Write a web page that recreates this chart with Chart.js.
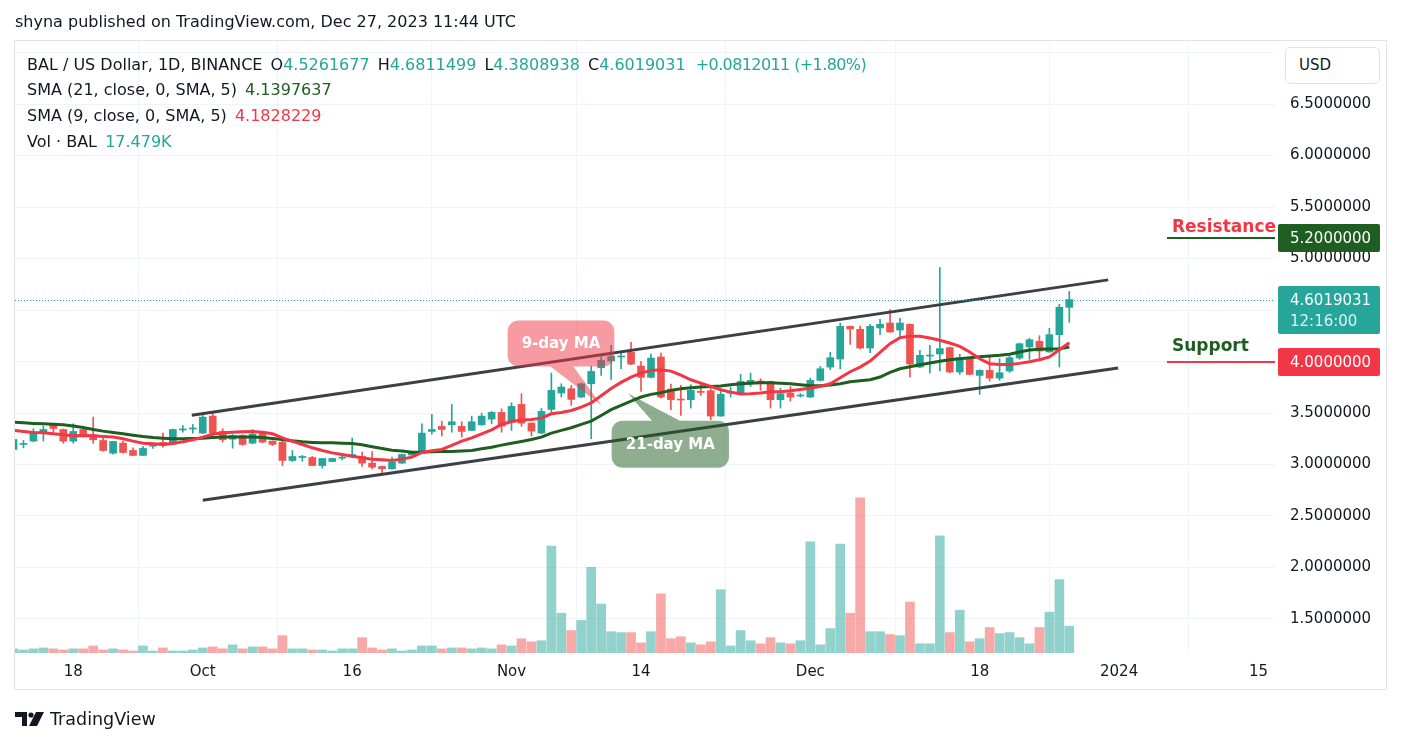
<!DOCTYPE html>
<html>
<head>
<meta charset="utf-8">
<script src="https://cdn.jsdelivr.net/npm/chart.js@4.4.1/dist/chart.umd.min.js"></script>
<style>
html,body{margin:0;padding:0;background:#fff;width:1401px;height:744px;overflow:hidden;}
body{font-family:"DejaVu Sans",sans-serif;color:#131722;}
#wrap{position:relative;width:1401px;height:744px;}
#frame{position:absolute;left:14px;top:40px;width:1371px;height:648px;border:1px solid #e0e3eb;}
#c{position:absolute;left:0;top:0;}
.hdr{position:absolute;left:15px;top:13px;font-size:16px;line-height:18px;white-space:pre;}
.leg{position:absolute;left:27px;font-size:16px;white-space:pre;line-height:18px;}
.leg i{font-style:normal;margin-left:3px;}
.leg .chg{letter-spacing:-0.6px;margin-left:5px;}
.t{color:#26a69a}.g{color:#1e5e20}.r{color:#f23645}
#usd{position:absolute;left:1285px;top:47px;width:95px;height:37px;border:1px solid #e0e3eb;border-radius:5px;background:#fff;font-size:15px;line-height:35px;box-sizing:border-box;padding-left:13px;}
#foot{position:absolute;left:15px;top:709px;font-size:17.5px;white-space:pre;}
#foot svg{vertical-align:-1px;margin-right:5px;}
</style>
</head>
<body>
<div id="wrap">
<div id="frame"></div>
<canvas id="c" width="1401" height="744"></canvas>
<div class="hdr">shyna published on TradingView.com, Dec 27, 2023 11:44 UTC</div>
<div class="leg" style="top:56px">BAL / US Dollar, 1D, BINANCE <i>O</i><span class="t">4.5261677</span> <i>H</i><span class="t">4.6811499</span> <i>L</i><span class="t">4.3808938</span> <i>C</i><span class="t">4.6019031</span> <i class="t chg">+0.0812011 (+1.80%)</i></div>
<div class="leg" style="top:81px">SMA (21, close, 0, SMA, 5) <i class="g">4.1397637</i></div>
<div class="leg" style="top:107px">SMA (9, close, 0, SMA, 5) <i class="r">4.1828229</i></div>
<div class="leg" style="top:133px">Vol · BAL <i class="t">17.479K</i></div>
<div id="usd">USD</div>
<div id="foot"><svg width="30" height="14" viewBox="0 0 30 14"><path d="M0 0H12V14H7V5H0Z" fill="#131722"/><circle cx="16" cy="3" r="2.6" fill="#131722"/><path d="M21 0H29L22 14H14Z" fill="#131722"/></svg>TradingView</div>
</div>
<script>
// ---- DATA (day index 0 = 2023-09-12, 106 = 2023-12-27) ----
const opens = [3.146,3.195,3.227,3.301,3.395,3.340,3.227,3.340,3.288,3.233,
3.110,3.207,3.136,3.088,3.178,3.214,3.201,3.335,3.345,3.305,
3.470,3.321,3.246,3.282,3.207,3.314,3.227,3.217,3.039,3.068,
3.068,2.990,3.029,3.062,3.078,3.078,3.013,2.981,2.958,3.013,
3.091,3.126,3.321,3.370,3.386,3.370,3.331,3.386,3.441,3.506,
3.412,3.583,3.402,3.305,3.535,3.694,3.736,3.655,3.784,3.940,
4.005,4.044,4.089,3.956,3.846,4.044,3.732,3.635,3.629,3.710,
3.716,3.470,3.694,3.694,3.804,3.810,3.807,3.629,3.694,3.665,
3.655,3.817,3.946,4.024,4.342,4.313,4.131,4.326,4.374,4.306,
4.361,3.946,4.053,4.073,4.135,3.898,4.037,3.865,3.914,3.839,
3.908,4.034,4.141,4.196,4.093,4.261,4.5261677];
const highs = [3.26,3.233,3.347,3.373,3.40,3.345,3.395,3.36,3.46,3.256,
3.226,3.227,3.162,3.175,3.21,3.305,3.345,3.379,3.389,3.476,
3.509,3.347,3.29,3.29,3.340,3.32,3.23,3.256,3.136,3.088,
3.078,3.06,3.06,3.110,3.256,3.120,3.126,2.985,3.071,3.10,
3.13,3.395,3.486,3.421,3.583,3.415,3.470,3.499,3.515,3.541,
3.600,3.687,3.405,3.545,3.888,3.784,3.768,3.79,3.953,4.050,
4.157,4.099,4.186,4.001,4.073,4.083,3.781,3.768,3.775,3.79,
3.765,3.72,3.752,3.875,3.888,3.833,3.81,3.742,3.758,3.69,
3.84,3.953,4.089,4.374,4.345,4.342,4.361,4.41,4.504,4.420,
4.365,4.109,4.157,4.912,4.14,4.070,4.04,3.92,4.05,4.027,
4.05,4.18,4.225,4.251,4.323,4.556,4.6811499];
const lows = [3.13,3.162,3.22,3.227,3.314,3.207,3.207,3.27,3.207,3.13,
3.10,3.11,3.085,3.085,3.156,3.168,3.20,3.314,3.305,3.30,
3.266,3.217,3.159,3.185,3.20,3.21,3.185,2.990,3.029,3.032,
2.988,2.964,3.025,3.045,3.065,2.981,2.958,2.916,2.955,3.01,
3.09,3.12,3.295,3.276,3.314,3.266,3.33,3.38,3.395,3.314,
3.331,3.370,3.276,3.30,3.509,3.655,3.574,3.65,3.250,3.865,
3.826,3.930,3.97,3.710,3.84,3.645,3.532,3.477,3.548,3.67,
3.434,3.47,3.655,3.69,3.758,3.720,3.548,3.548,3.616,3.655,
3.65,3.81,3.920,3.930,4.167,4.122,4.086,4.261,4.285,4.229,
3.849,3.94,3.888,3.908,3.89,3.875,3.87,3.680,3.810,3.817,
3.894,4.021,4.021,4.027,4.09,3.946,4.3808938];
const closes = [3.243,3.201,3.305,3.340,3.350,3.227,3.321,3.279,3.240,3.136,
3.224,3.117,3.088,3.156,3.207,3.185,3.340,3.345,3.350,3.460,
3.305,3.240,3.282,3.195,3.295,3.217,3.195,3.039,3.078,3.078,
2.990,3.058,3.058,3.068,3.097,3.013,2.974,2.958,3.023,3.097,
3.126,3.305,3.340,3.340,3.415,3.321,3.415,3.470,3.506,3.373,
3.564,3.402,3.324,3.515,3.720,3.752,3.632,3.784,3.904,4.011,
4.050,4.050,3.975,3.846,4.034,3.655,3.629,3.626,3.720,3.700,
3.470,3.681,3.703,3.807,3.817,3.801,3.629,3.687,3.655,3.671,
3.817,3.930,4.037,4.342,4.316,4.131,4.342,4.361,4.287,4.374,
3.976,4.060,4.060,4.125,3.898,4.037,3.875,3.914,3.839,3.891,
4.037,4.173,4.212,4.102,4.261,4.527,4.6019031];
const volumesK = [2.7,2.0,2.7,3.3,2.7,2.0,2.7,2.7,4.6,2.0,
2.7,2.0,1.3,4.6,1.3,3.3,1.3,1.3,2.0,3.3,
4.0,2.7,5.3,2.7,4.0,4.0,2.7,11.3,2.7,2.7,
2.0,2.0,1.3,2.7,2.7,10.0,3.3,2.0,2.7,1.3,
2.0,4.6,4.6,2.7,3.3,3.3,2.7,3.3,2.7,5.3,
4.6,9.3,7.3,8.0,69.7,25.9,14.6,21.2,55.8,31.9,
13.9,13.3,13.3,6.6,13.9,38.5,9.3,10.6,6.6,5.3,
7.3,41.2,4.6,14.6,8.0,6.0,10.0,6.6,6.0,8.0,
72.4,5.3,15.9,71.0,25.9,101.1,13.9,13.9,12.0,11.3,
33.2,6.0,6.0,76.3,13.3,27.9,7.3,9.3,16.6,12.6,
13.3,10.0,6.0,16.6,26.6,47.8,17.479];
const sma21 = [3.412,3.405,3.399,3.395,3.392,3.386,3.373,3.360,3.340,3.324,
3.311,3.298,3.285,3.272,3.262,3.256,3.250,3.250,3.253,3.256,
3.262,3.266,3.266,3.266,3.266,3.262,3.253,3.243,3.230,3.220,
3.214,3.210,3.210,3.207,3.204,3.191,3.172,3.155,3.139,3.130,
3.120,3.120,3.123,3.126,3.126,3.130,3.136,3.152,3.168,3.188,
3.207,3.224,3.243,3.266,3.305,3.331,3.357,3.389,3.421,3.476,
3.532,3.574,3.616,3.655,3.681,3.697,3.720,3.736,3.745,3.752,
3.758,3.762,3.775,3.784,3.790,3.794,3.794,3.790,3.784,3.775,
3.765,3.765,3.771,3.784,3.804,3.814,3.823,3.849,3.895,3.930,
3.950,3.969,3.985,4.002,4.018,4.028,4.037,4.047,4.053,4.060,
4.070,4.092,4.112,4.118,4.121,4.125,4.1397637];
const sma9 = [3.331,3.321,3.311,3.308,3.298,3.288,3.279,3.282,3.279,3.272,
3.266,3.250,3.227,3.207,3.201,3.194,3.204,3.220,3.240,3.266,
3.295,3.308,3.314,3.318,3.321,3.314,3.298,3.259,3.224,3.194,
3.162,3.136,3.113,3.097,3.081,3.065,3.052,3.045,3.039,3.052,
3.071,3.117,3.133,3.146,3.185,3.227,3.259,3.298,3.337,3.389,
3.418,3.431,3.437,3.450,3.492,3.505,3.524,3.557,3.599,3.667,
3.738,3.797,3.849,3.888,3.914,3.920,3.907,3.868,3.823,3.790,
3.758,3.726,3.703,3.684,3.687,3.694,3.707,3.707,3.716,3.729,
3.742,3.758,3.784,3.843,3.901,3.946,4.005,4.089,4.173,4.232,
4.245,4.245,4.228,4.206,4.180,4.147,4.092,4.027,3.979,3.972,
3.972,3.982,3.998,4.018,4.044,4.115,4.1828229];
// channel drawing endpoints [dayIndex, price]
const channelUpper = [[17.9,3.478],[109.9,4.793]];
const channelLower = [[19.0,2.652],[110.9,3.938]];
const tickDays = [6,19,34,50,63,80,97,111,125];
const tickLabels = ['18','Oct','16','Nov','14','Dec','18','2024','15'];
const priceTicks = [1.5,2.0,2.5,3.0,3.5,4.0,4.5,5.0,5.5,6.0,6.5,7.0];
const resistanceLevel = 5.2;
const supportLevel = 4.0;
const lastPrice = 4.6019031;
const countdown = '12:16:00';

// ---- styles ----
const UP = '#26a69a', DN = '#ef5350';
const UPV = 'rgba(38,166,154,0.5)', DNV = 'rgba(239,83,80,0.5)';
const idx = closes.map((_, i) => i);
const isUp = idx.map(i => closes[i] >= opens[i]);

const decor = {
  id: 'decor',
  afterDatasetsDraw(chart) {
    const {ctx, chartArea: a, scales: {x, y}} = chart;
    ctx.save();
    ctx.beginPath(); ctx.rect(a.left, a.top, a.right - a.left, a.bottom - a.top); ctx.clip();
    const py = Math.round(y.getPixelForValue(lastPrice)) + 0.5;
    ctx.strokeStyle = UP; ctx.lineWidth = 1; ctx.setLineDash([1, 2]);
    ctx.beginPath(); ctx.moveTo(a.left, py); ctx.lineTo(a.right, py); ctx.stroke();
    ctx.setLineDash([]);
    function callout(b, tail, fill, text) {
      const x0 = x.getPixelForValue(b[0]), x1 = x.getPixelForValue(b[1]);
      const y0 = y.getPixelForValue(b[2]), y1 = y.getPixelForValue(b[3]);
      const r = 11;
      ctx.fillStyle = fill;
      ctx.beginPath();
      ctx.moveTo(x0 + r, y0);
      if (tail.edge === 'top') {
        ctx.lineTo(x.getPixelForValue(tail.b0), y0);
        ctx.lineTo(x.getPixelForValue(tail.tx), y.getPixelForValue(tail.ty));
        ctx.lineTo(x.getPixelForValue(tail.b1), y0);
      }
      ctx.lineTo(x1 - r, y0); ctx.arcTo(x1, y0, x1, y0 + r, r);
      ctx.lineTo(x1, y1 - r); ctx.arcTo(x1, y1, x1 - r, y1, r);
      if (tail.edge === 'bottom') {
        ctx.lineTo(x.getPixelForValue(tail.b1), y1);
        ctx.lineTo(x.getPixelForValue(tail.tx), y.getPixelForValue(tail.ty));
        ctx.lineTo(x.getPixelForValue(tail.b0), y1);
      }
      ctx.lineTo(x0 + r, y1); ctx.arcTo(x0, y1, x0, y1 - r, r);
      ctx.lineTo(x0, y0 + r); ctx.arcTo(x0, y0, x0 + r, y0, r);
      ctx.closePath(); ctx.fill();
      ctx.fillStyle = '#ffffff';
      ctx.font = 'bold 15px "DejaVu Sans"';
      ctx.textAlign = 'center'; ctx.textBaseline = 'middle';
      ctx.fillText(text, (x0 + x1) / 2, (y0 + y1) / 2 + 1);
    }
    callout([49.61, 60.32, 4.399, 3.951], {edge: 'bottom', b0: 53.9, b1: 56.2, tx: 59.05, ty: 3.572}, 'rgba(242,54,69,0.5)', '9-day MA');
    callout([60.05, 71.83, 3.426, 2.969], {edge: 'top', b0: 64.1, b1: 66.9, tx: 61.7, ty: 3.689}, 'rgba(30,94,32,0.5)', '21-day MA');
    ctx.restore();
  },
  afterDraw(chart) {
    const {ctx, chartArea: a, scales: {y}} = chart;
    ctx.save();
    const bx = a.right + 3, bw = 102;
    const lx = 1167;
    function level(v, lineColor, boxColor, label, labelColor, labelDy) {
      const yy = Math.round(y.getPixelForValue(v));
      ctx.strokeStyle = lineColor; ctx.lineWidth = 2;
      ctx.beginPath(); ctx.moveTo(lx, yy); ctx.lineTo(a.right, yy); ctx.stroke();
      ctx.fillStyle = boxColor;
      ctx.beginPath(); ctx.roundRect(bx, yy - 14, bw, 28, 2); ctx.fill();
      ctx.fillStyle = '#ffffff'; ctx.font = '15px "DejaVu Sans"';
      ctx.textAlign = 'left'; ctx.textBaseline = 'middle';
      ctx.fillText(v.toFixed(7), a.right + 15, yy + 1);
      ctx.fillStyle = labelColor; ctx.font = 'bold 17px "DejaVu Sans"';
      ctx.fillText(label, lx + 5, yy + labelDy);
    }
    level(resistanceLevel, '#1e5e20', '#1e5e20', 'Resistance', '#f23645', -10);
    level(supportLevel, '#f23645', '#f23645', 'Support', '#1e5e20', -15);
    const py = Math.round(y.getPixelForValue(lastPrice));
    ctx.fillStyle = UP;
    ctx.beginPath(); ctx.roundRect(bx, py - 14, bw, 48, 2); ctx.fill();
    ctx.fillStyle = '#ffffff'; ctx.font = '15px "DejaVu Sans"';
    ctx.textAlign = 'left'; ctx.textBaseline = 'middle';
    ctx.fillText(lastPrice.toFixed(7), a.right + 15, py + 1);
    ctx.fillStyle = 'rgba(255,255,255,0.85)';
    ctx.fillText(countdown, a.right + 15, py + 22);
    ctx.restore();
  }
};

const pts = arr => idx.map(i => ({x: i, y: arr[i]}));

new Chart(document.getElementById('c'), {
  type: 'bar',
  data: {
    datasets: [
      {type: 'line', data: channelUpper.map(p => ({x: p[0], y: p[1]})), borderColor: '#3d3f47', borderWidth: 3, pointRadius: 0, order: 0, yAxisID: 'y'},
      {type: 'line', data: channelLower.map(p => ({x: p[0], y: p[1]})), borderColor: '#3d3f47', borderWidth: 3, pointRadius: 0, order: 0, yAxisID: 'y'},
      {type: 'line', data: pts(sma9), borderColor: '#f23645', borderWidth: 3, pointRadius: 0, tension: 0, order: 1, yAxisID: 'y'},
      {type: 'line', data: pts(sma21), borderColor: '#1e5e20', borderWidth: 3, pointRadius: 0, tension: 0, order: 1, yAxisID: 'y'},
      {data: idx.map(i => ({x: i, y: [opens[i], closes[i]]})), backgroundColor: idx.map(i => isUp[i] ? UP : DN), barThickness: 7, minBarLength: 1, grouped: false, order: 2, yAxisID: 'y'},
      {data: idx.map(i => ({x: i, y: [lows[i], highs[i]]})), backgroundColor: idx.map(i => isUp[i] ? UP : DN), barThickness: 1, grouped: false, order: 3, yAxisID: 'y'},
      {data: idx.map(i => ({x: i, y: volumesK[i]})), backgroundColor: idx.map(i => isUp[i] ? UPV : DNV), barThickness: 9, grouped: false, order: 10, yAxisID: 'yv'}
    ]
  },
  options: {
    responsive: false,
    animation: false,
    events: [],
    layout: {padding: {left: 15, top: 41, right: 14, bottom: 54}},
    plugins: {legend: {display: false}, tooltip: {enabled: false}},
    scales: {
      x: {
        type: 'linear', min: 0.15, max: 126.65, offset: false,
        grid: {color: '#f0f3fa', drawTicks: false},
        border: {display: false},
        afterBuildTicks: s => { s.ticks = tickDays.map(v => ({value: v})); },
        afterFit: s => { s.height = 37; },
        ticks: {
          autoSkip: false, maxRotation: 0, padding: 10, color: '#131722',
          font: {family: 'DejaVu Sans', size: 15},
          callback: v => tickLabels[tickDays.indexOf(v)]
        }
      },
      y: {
        type: 'linear', position: 'right', min: 1.1693, max: 7.1128,
        grid: {color: '#f0f3fa', drawTicks: false},
        border: {display: false},
        afterBuildTicks: s => { s.ticks = priceTicks.map(v => ({value: v})); },
        afterFit: s => { s.width = 112; },
        ticks: {
          padding: 15, color: '#131722',
          font: {family: 'DejaVu Sans', size: 15},
          callback: v => (v > 6.75 ? '' : Number(v).toFixed(7))
        }
      },
      yv: {type: 'linear', display: false, min: 0, max: 398.5}
    }
  },
  plugins: [decor]
});
</script>
</body>
</html>
